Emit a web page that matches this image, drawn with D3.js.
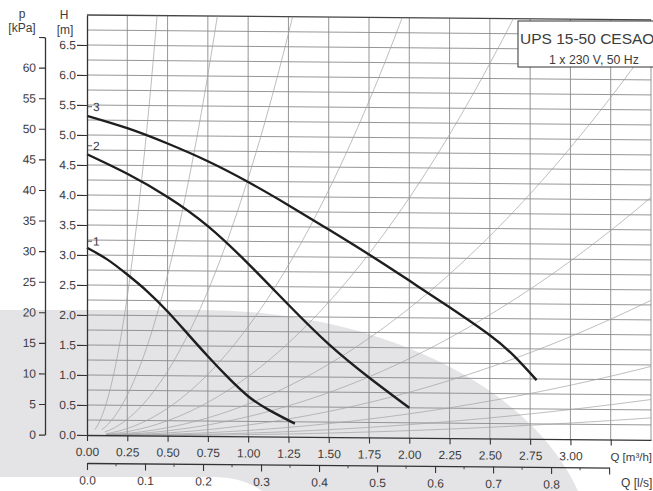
<!DOCTYPE html>
<html>
<head>
<meta charset="utf-8">
<script src="https://cdn.jsdelivr.net/npm/d3@7"></script>
<style>
  body { margin: 0; background: #fff; }
  svg { display: block; }
  text { font-family: "Liberation Sans", Arial, sans-serif; fill: #3c3c3c; }
</style>
</head>
<body>
<div id="chart"></div>
<script>
// tick labels
var flowTicks = [0, 0.25, 0.5, 0.75, 1.0, 1.25, 1.5, 1.75, 2.0, 2.25, 2.5, 2.75, 3.0, 3.25];
var headTicks = [0, 0.5, 1.0, 1.5, 2.0, 2.5, 3.0, 3.5, 4.0, 4.5, 5.0, 5.5, 6.0, 6.5];
var pressTicks = [0, 5, 10, 15, 20, 25, 30, 35, 40, 45, 50, 55, 60, 65];
var litreTicks = [0, 0.1, 0.2, 0.3, 0.4, 0.5, 0.6, 0.7, 0.8, 0.9];

// pump curves, Q [m3/h] / H [m]
var curveNames = ["1", "2", "3"];
var curve1Q = [0, 0.125, 0.25, 0.375, 0.5, 0.625, 0.75, 0.875, 1.0, 1.125, 1.29];
var curve1H = [3.12, 2.93, 2.68, 2.4, 2.07, 1.7, 1.33, 0.98, 0.67, 0.45, 0.22];
var curve2Q = [0, 0.25, 0.5, 0.75, 1.0, 1.25, 1.5, 1.75, 2.0];
var curve2H = [4.68, 4.36, 3.98, 3.5, 2.88, 2.2, 1.55, 1.0, 0.5];
var curve3Q = [0, 0.25, 0.5, 0.75, 1.0, 1.25, 1.5, 1.75, 2.0, 2.25, 2.5, 2.65, 2.79];
var curve3H = [5.32, 5.12, 4.87, 4.58, 4.24, 3.86, 3.46, 3.05, 2.62, 2.18, 1.72, 1.38, 0.98];
var curveLabelH = [3.23, 4.82, 5.47];

// thin system curves H = k * Q^2
var systemK = [37, 10.7, 4.3, 1.83, 1.0, 0.54, 0.33, 0.19, 0.1, 0.055, 0.03];
var systemStartQ = [0.05, 0.09, 0.11, 0.12, 0.12, 0.12, 0.12, 0.12, 0.12, 0.12, 0.12];

var W = 653, H = 491;
var svg = d3.select("#chart").append("svg").attr("width", W).attr("height", H);

var x = d3.scaleLinear().domain([0, 3.5]).range([87, 651]);
var y = d3.scaleLinear().domain([0, 7]).range([435, 15]);
var kpa = d3.scaleLinear().domain([0, 65]).range([y(0), y(65 / 9.81)]);
var ls = d3.scaleLinear().domain([0, 0.9]).range([x(0), x(0.9 * 3.6)]);

// grey page shape behind the chart
svg.append("path")
  .attr("d", "M0,310 L200,310 A393,250 0 0,1 578,491 L262,491 Q242,477 215,477 L0,477 Z")
  .attr("fill", "#e4e4e6");

// scan is a little skewed
var g = svg.append("g").attr("transform", "translate(87,0) skewY(0.5) translate(-87,0)");

svg.append("defs").append("clipPath").attr("id", "plot")
  .append("rect").attr("x", x(0)).attr("y", y(7)).attr("width", x(3.5) - x(0)).attr("height", y(0) - y(7));

// grid
g.append("g").selectAll("line").data(d3.range(0.25, 3.51, 0.25)).enter().append("line")
  .attr("x1", d => x(d)).attr("x2", d => x(d))
  .attr("y1", y(0)).attr("y2", y(7))
  .attr("stroke", "#8a8a8a").attr("stroke-width", 0.9);
g.append("g").selectAll("line").data(d3.range(0.25, 6.9, 0.25)).enter().append("line")
  .attr("x1", x(0)).attr("x2", x(3.5))
  .attr("y1", d => y(d)).attr("y2", d => y(d))
  .attr("stroke", "#8a8a8a").attr("stroke-width", 0.9);
g.append("line").attr("x1", x(0)).attr("x2", x(3.5)).attr("y1", y(7)).attr("y2", y(7))
  .attr("stroke", "#444").attr("stroke-width", 1.3);

// system curves
var sysLine = d3.line().x(d => x(d[0])).y(d => y(d[1]));
g.append("g").attr("clip-path", "url(#plot)").selectAll("path").data(systemK).enter().append("path")
  .attr("d", function (k, i) {
    var pts = [];
    for (var q = systemStartQ[i]; q <= 3.6; q += 0.02) pts.push([q, k * q * q]);
    return sysLine(pts);
  })
  .attr("fill", "none").attr("stroke", "#a0a0a0").attr("stroke-width", 0.7);

// pump curves
var curves = [
  curve1Q.map((q, i) => [q, curve1H[i]]),
  curve2Q.map((q, i) => [q, curve2H[i]]),
  curve3Q.map((q, i) => [q, curve3H[i]])
];
var pumpLine = d3.line().x(d => x(d[0])).y(d => y(d[1])).curve(d3.curveNatural);
g.append("g").selectAll("path").data(curves).enter().append("path")
  .attr("d", pumpLine)
  .attr("fill", "none").attr("stroke", "#1e1e1e").attr("stroke-width", 2.4);

// curve labels
var lab = g.append("g").selectAll("g").data(curveNames).enter().append("g");
lab.append("line")
  .attr("x1", x(0)).attr("x2", x(0) + 5)
  .attr("y1", (d, i) => y(curveLabelH[i])).attr("y2", (d, i) => y(curveLabelH[i]))
  .attr("stroke", "#555").attr("stroke-width", 1);
lab.append("text")
  .attr("x", x(0) + 6).attr("y", (d, i) => y(curveLabelH[i])).attr("dy", "0.35em")
  .style("font-size", "12px").text(d => d);

// H axis
var hAxis = g.append("g").attr("transform", "translate(" + x(0) + ",0)")
  .call(d3.axisLeft(y).tickValues(headTicks).tickSize(10).tickSizeOuter(0).tickPadding(1)
    .tickFormat(d3.format(".1f")));

// p axis
var pAxis = g.append("g").attr("transform", "translate(45,0)")
  .call(d3.axisLeft(kpa).tickValues(pressTicks).tickSize(6).tickSizeOuter(0).tickPadding(3)
    .tickFormat(d => d <= 60 ? d : ""));

// Q m3/h axis
var qAxis = g.append("g").attr("transform", "translate(0," + y(0) + ")")
  .call(d3.axisBottom(x).tickValues(flowTicks).tickSize(6).tickSizeOuter(0).tickPadding(6.5)
    .tickFormat(d => d <= 3 ? d3.format(".2f")(d) : ""));

// Q l/s axis
var lAxis = g.append("g").attr("transform", "translate(0,463)")
  .call(d3.axisBottom(ls).tickValues(litreTicks).tickSize(7).tickSizeOuter(0).tickPadding(6)
    .tickFormat(d => d <= 0.8 ? d3.format(".1f")(d) : ""));
lAxis.append("g").selectAll("line").data(d3.range(0.05, 0.9, 0.1)).enter().append("line")
  .attr("x1", d => ls(d)).attr("x2", d => ls(d)).attr("y1", 0).attr("y2", 3)
  .attr("stroke", "#444");

[hAxis, pAxis, qAxis, lAxis].forEach(function (a) {
  a.selectAll(".domain").attr("stroke", "#333").attr("stroke-width", 1.3);
  a.selectAll(".tick line").attr("stroke", "#333").attr("stroke-width", 1.1);
  a.selectAll("text").style("font-size", "12px").attr("fill", "#3c3c3c")
    .style("font-family", "'Liberation Sans', Arial, sans-serif");
});

// axis titles
svg.append("text").attr("x", 64).attr("y", 19).attr("text-anchor", "middle").style("font-size", "12px").text("H");
svg.append("text").attr("x", 65).attr("y", 34).attr("text-anchor", "middle").style("font-size", "12px").text("[m]");
svg.append("text").attr("x", 22).attr("y", 18).attr("text-anchor", "middle").style("font-size", "12px").text("p");
svg.append("text").attr("x", 22).attr("y", 32).attr("text-anchor", "middle").style("font-size", "12px").text("[kPa]");
svg.append("text").attr("x", 652).attr("y", 461).attr("text-anchor", "end").style("font-size", "11.5px").text("Q [m³/h]");
svg.append("text").attr("x", 621).attr("y", 487).style("font-size", "12px").text("Q [l/s]");

// type box
svg.append("rect").attr("x", 518).attr("y", 21).attr("width", 170).attr("height", 46)
  .attr("fill", "#fff").attr("stroke", "#333").attr("stroke-width", 1);
svg.append("text").attr("x", 520).attr("y", 44)
  .style("font-size", "15.5px").text("UPS 15-50 CESAO");
svg.append("text").attr("x", 594).attr("y", 64).attr("text-anchor", "middle")
  .style("font-size", "12.3px").text("1 x 230 V, 50 Hz");
</script>
</body>
</html>
